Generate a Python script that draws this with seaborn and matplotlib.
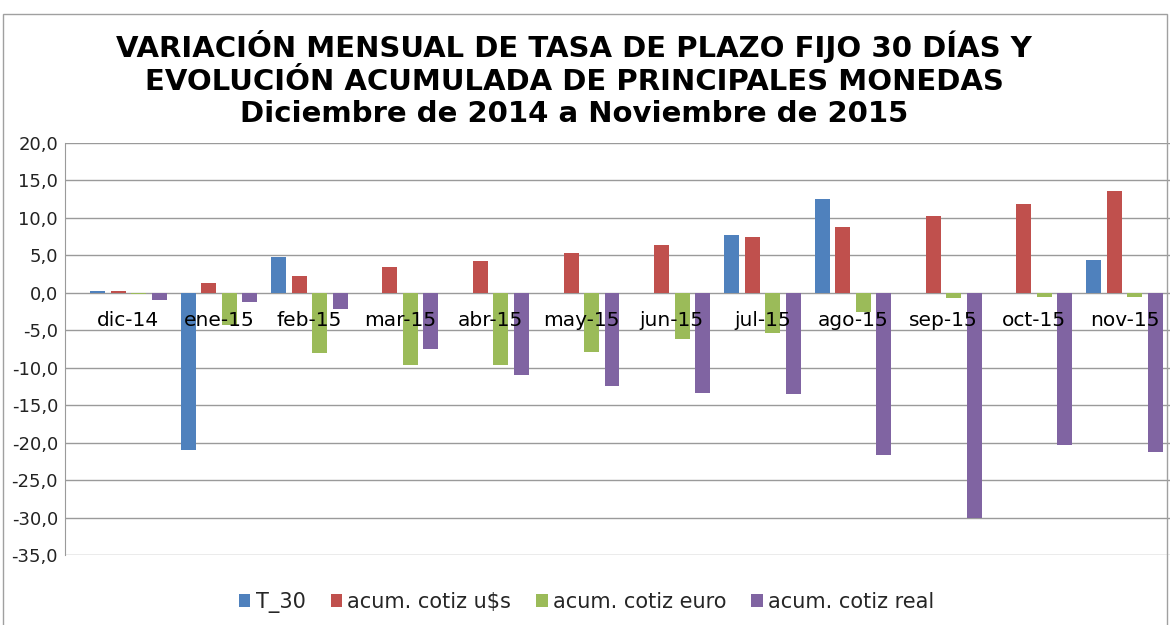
import pandas as pd
import matplotlib
matplotlib.use('Agg')
import matplotlib.pyplot as plt
import matplotlib.ticker as mticker
from matplotlib.patches import Rectangle
import seaborn as sns

# datos
meses = ['dic-14', 'ene-15', 'feb-15', 'mar-15', 'abr-15', 'may-15',
         'jun-15', 'jul-15', 'ago-15', 'sep-15', 'oct-15', 'nov-15']
t_30 = [0.3, -21.0, 4.8, 0.0, 0.0, 0.0, 0.0, 7.7, 12.5, 0.0, 0.0, 4.4]
acum_usd = [0.3, 1.3, 2.3, 3.4, 4.3, 5.3, 6.4, 7.5, 8.8, 10.3, 11.9, 13.6]
acum_euro = [-0.2, -4.3, -8.0, -9.6, -9.7, -7.9, -6.2, -5.4, -2.5, -0.7, -0.6, -0.6]
acum_real = [-1.0, -1.2, -2.2, -7.5, -11.0, -12.5, -13.4, -13.5, -21.7, -30.1, -20.3, -21.2]

series = ['T_30', 'acum. cotiz u$s', 'acum. cotiz euro', 'acum. cotiz real']
colores = ['#4F81BD', '#C0504D', '#9BBB59', '#8064A2']

df = pd.DataFrame({'mes': meses, series[0]: t_30, series[1]: acum_usd,
                   series[2]: acum_euro, series[3]: acum_real})
df = df.melt(id_vars='mes', var_name='serie', value_name='valor')

sns.set_style('white')
plt.rcParams['font.family'] = ['DejaVu Sans']

fig = plt.figure(figsize=(11.7, 6.25), dpi=100)
ax = fig.add_axes([65/1170, 1 - 555/625, 1 - 65/1170, (555 - 143)/625])

sns.barplot(ax=ax, data=df, x='mes', y='valor', hue='serie', order=meses,
            hue_order=series, palette=colores, width=0.905, gap=0.27,
            saturation=1, errorbar=None, legend=True, linewidth=0)

ax.set_ylim(-35, 20)
ax.set_xlim(-0.70, 11.50)
ax.yaxis.set_major_locator(mticker.MultipleLocator(5))
ax.yaxis.set_major_formatter(mticker.FuncFormatter(lambda v, p: f'{v:.1f}'.replace('.', ',')))
ax.grid(axis='y', color='#9a9a9a', lw=1)
ax.set_axisbelow(True)
ax.xaxis.set_zorder(3)  # etiquetas de meses por encima de las barras
ax.set_xlabel('')
ax.set_ylabel('')

for s in ['top', 'right']:
    ax.spines[s].set_visible(False)
ax.spines['left'].set_color('#9a9a9a')
ax.spines['bottom'].set_position(('data', 0))
ax.spines['bottom'].set_visible(False)
ax.tick_params(axis='x', length=0, pad=13, labelsize=14.5, labelcolor='black')
ax.tick_params(axis='y', length=0, pad=5, labelsize=13, labelcolor='#222222')

ax.legend(loc='center', bbox_to_anchor=(0.472, -0.115), ncol=4, frameon=False,
          fontsize=15, handlelength=0.55, handleheight=0.55, handletextpad=0.25,
          columnspacing=1.2)

fig.text(574/1170, 1 - 79/625,
         'VARIACIÓN MENSUAL DE TASA DE PLAZO FIJO 30 DÍAS Y\n'
         'EVOLUCIÓN ACUMULADA DE PRINCIPALES MONEDAS\n'
         'Diciembre de 2014 a Noviembre de 2015',
         ha='center', va='center', fontsize=21, fontweight='bold',
         color='black', linespacing=1.22)

fig.patches.append(Rectangle((3/1170, -0.01), 1 - 6/1170, 1 - 14/625 + 0.01,
                             transform=fig.transFigure, fill=False,
                             edgecolor='#a0a0a0', lw=1))

fig.savefig('out.png', dpi=100)
